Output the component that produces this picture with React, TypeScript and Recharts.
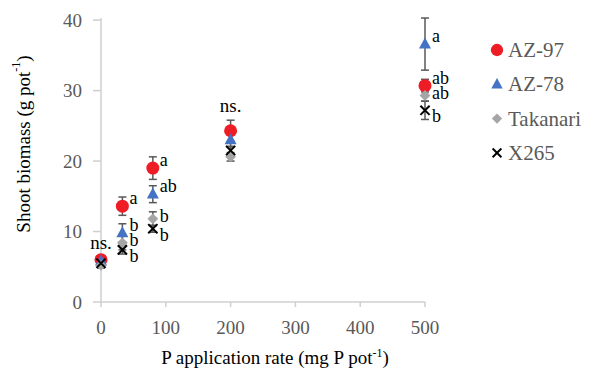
import { ErrorBar, Label, ReferenceDot, Scatter, ScatterChart, XAxis, YAxis } from 'recharts'

const FONT = 'Liberation Serif, Times New Roman, serif'
const AXIS_GRAY = '#cfcfcf'
const TEXT_GRAY = '#595959'

// P application rate (mg P pot-1)
const rates = [0, 33, 80, 200, 500]

const az97 = [6.0, 13.6, 19.0, 24.3, 30.7]
const az97Err = [0.4, 1.3, 1.6, 1.5, 0.9]
const az97Sig = ['', 'a', 'a', '', 'ab']

const az78 = [5.8, 9.8, 15.3, 23.0, 36.6]
const az78Err = [0.4, 1.3, 1.2, 1.0, 3.7]
const az78Sig = ['', 'b', 'ab', '', 'a']

const takanari = [5.2, 8.4, 11.8, 20.6, 29.3]
const takanariErr = [0.4, 1.0, 1.0, 0.6, 0.8]
const takanariSig = ['', 'b', 'b', '', 'ab']

const x265 = [5.5, 7.4, 10.4, 21.5, 27.2]
const x265Err = [0.3, 0.6, 0.5, 0.6, 1.3]
const x265Sig = ['', 'b', 'b', '', 'b']

const xTicks = [0, 100, 200, 300, 400, 500]
const yTicks = [0, 10, 20, 30, 40]
const nsRates = [0, 200]

type Kind = 'circle' | 'triangle' | 'diamond' | 'x'

const series = [
  { name: 'AZ-97', kind: 'circle' as Kind, color: '#ee1c25', values: az97, errs: az97Err, sigs: az97Sig, labelDy: -8 },
  { name: 'AZ-78', kind: 'triangle' as Kind, color: '#4472c4', values: az78, errs: az78Err, sigs: az78Sig, labelDy: -8 },
  { name: 'Takanari', kind: 'diamond' as Kind, color: '#a5a5a5', values: takanari, errs: takanariErr, sigs: takanariSig, labelDy: -3 },
  { name: 'X265', kind: 'x' as Kind, color: '#000000', values: x265, errs: x265Err, sigs: x265Sig, labelDy: 6 },
]

const seriesData = series.map((s) =>
  rates.map((rate, i) => ({ rate, value: s.values[i], err: s.errs[i], sig: s.sigs[i] })),
)

function Marker({ kind, cx, cy, color, k = 1 }: { kind: Kind; cx: number; cy: number; color: string; k?: number }) {
  if (kind === 'circle') return <circle cx={cx} cy={cy} r={6.5 * k} fill={color} />
  if (kind === 'triangle') {
    const w = 12 * k
    const h = 11 * k
    return (
      <polygon
        points={`${cx},${cy - h * 0.6} ${cx + w / 2},${cy + h * 0.4} ${cx - w / 2},${cy + h * 0.4}`}
        fill={color}
      />
    )
  }
  if (kind === 'diamond') {
    const d = 5.4 * k
    return <polygon points={`${cx},${cy - d} ${cx + d},${cy} ${cx},${cy + d} ${cx - d},${cy}`} fill={color} />
  }
  const d = 4.6 * k
  return (
    <g stroke={color} strokeWidth={2}>
      <line x1={cx - d} y1={cy - d} x2={cx + d} y2={cy + d} />
      <line x1={cx - d} y1={cy + d} x2={cx + d} y2={cy - d} />
    </g>
  )
}

function XTitle(props: any) {
  const vb = props.viewBox
  return (
    <text x={vb.x + vb.width / 2 + 12} y={vb.y + vb.height + 22} textAnchor="middle" fontSize={19} fontFamily={FONT} fill="#000">
      P application rate (mg P pot
      <tspan dy={-7} fontSize={12}>-1</tspan>
      <tspan dy={7} fontSize={19}>)</tspan>
    </text>
  )
}

function YTitle(props: any) {
  const vb = props.viewBox
  const x = vb.x - 18
  const y = vb.y + vb.height / 2 - 16
  return (
    <text
      x={x}
      y={y}
      transform={`rotate(-90, ${x}, ${y})`}
      textAnchor="middle"
      dominantBaseline="central"
      fontSize={19}
      fontFamily={FONT}
      fill="#000"
    >
      Shoot biomass (g pot
      <tspan dy={-7} fontSize={12}>-1</tspan>
      <tspan dy={7} fontSize={19}>)</tspan>
    </text>
  )
}

export default function App() {
  const nsTops = nsRates.map((r) => {
    const i = rates.indexOf(r)
    return Math.max(...series.map((s) => s.values[i] + s.errs[i]))
  })

  return (
    <div style={{ position: 'absolute', left: 0, top: 0, width: 591, height: 370, background: '#fff', fontFamily: FONT }}>
      <ScatterChart width={591} height={370} margin={{ top: 18, right: 166, bottom: 28, left: 41 }} style={{ fontFamily: FONT }}>
        <XAxis
          type="number"
          dataKey="rate"
          domain={[0, 500]}
          ticks={xTicks}
          height={40}
          stroke={AXIS_GRAY}
          strokeWidth={1.5}
          tickSize={5}
          tickMargin={14}
          tick={{ fill: TEXT_GRAY, fontSize: 19, fontFamily: FONT }}
        >
          <Label content={XTitle} />
        </XAxis>
        <YAxis
          type="number"
          dataKey="value"
          domain={[0, 40]}
          ticks={yTicks}
          width={60}
          stroke={AXIS_GRAY}
          strokeWidth={1.5}
          tickSize={8}
          tickMargin={11}
          tick={{ fill: TEXT_GRAY, fontSize: 19, fontFamily: FONT }}
        >
          <Label content={YTitle} />
        </YAxis>
        {series.map((s, si) => (
          <Scatter
            key={s.name}
            name={s.name}
            data={seriesData[si]}
            isAnimationActive={false}
            shape={(p: any) => (
              <g>
                <Marker kind={s.kind} cx={p.cx} cy={p.cy} color={s.color} />
                {p.payload.sig ? (
                  <text
                    x={p.cx + 7}
                    y={p.cy + s.labelDy}
                    dominantBaseline="central"
                    fontSize={18}
                    fontFamily={FONT}
                    fill="#000"
                  >
                    {p.payload.sig}
                  </text>
                ) : null}
              </g>
            )}
          >
            <ErrorBar dataKey="err" direction="y" width={4} stroke={TEXT_GRAY} strokeWidth={1.5} />
          </Scatter>
        ))}
        {nsRates.map((r, i) => (
          <ReferenceDot
            key={r}
            x={r}
            y={nsTops[i]}
            r={0}
            fill="none"
            stroke="none"
            label={{ value: 'ns.', position: 'top', offset: 8, fill: '#000', fontSize: 19, fontFamily: FONT }}
          />
        ))}
      </ScatterChart>
      <svg width={101} height={190} style={{ position: 'absolute', left: 490, top: 0 }}>
        {series.map((s, i) => (
          <g key={s.name}>
            <Marker kind={s.kind} cx={7} cy={50 + i * 34.3} color={s.color} k={0.95} />
            <text x={18} y={50 + i * 34.3} dominantBaseline="central" fontSize={21} fontFamily={FONT} fill={TEXT_GRAY}>
              {s.name}
            </text>
          </g>
        ))}
      </svg>
    </div>
  )
}
